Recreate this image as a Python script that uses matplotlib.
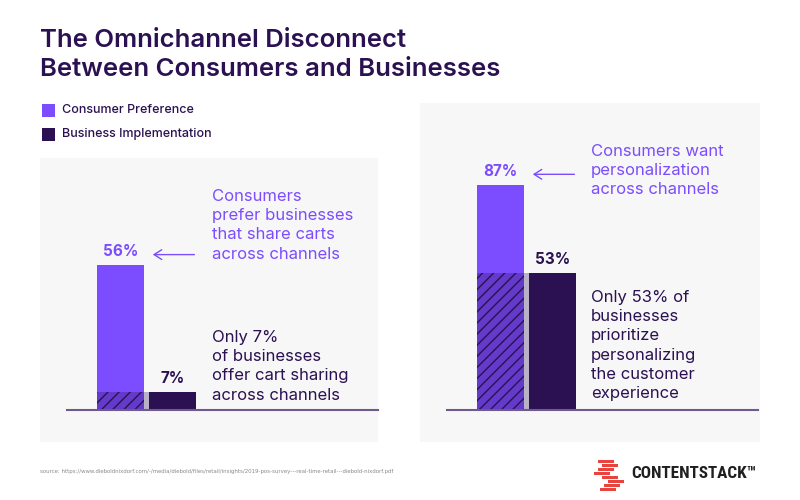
#!/usr/bin/env python3
"""Omnichannel disconnect: consumer preference vs business implementation."""
import matplotlib
matplotlib.use("Agg")
import matplotlib.pyplot as plt
from matplotlib.patches import Rectangle

plt.rcParams["font.family"] = ["Inter", "DejaVu Sans"]

W, H = 800, 500
PURPLE = "#7c4dff"
DARK = "#2b1152"
PANEL = "#f7f7f7"
BASE = "#6e5a8c"

TITLE = "The Omnichannel Disconnect\nBetween Consumers and Businesses"
SERIES = ["Consumer Preference", "Business Implementation"]
cart_values = [56, 7]
personal_values = [87, 53]
cart_notes = ["Consumers\nprefer businesses\nthat share carts\nacross channels",
              "Only 7%\nof businesses\noffer cart sharing\nacross channels"]
personal_notes = ["Consumers want\npersonalization\nacross channels",
                  "Only 53% of\nbusinesses\nprioritize\npersonalizing\nthe customer\nexperience"]
SOURCE = ("source: https://www.dieboldnixdorf.com/-/media/diebold/files/retail/insights/"
          "2019-pos-survey---real-time-retail---diebold-nixdorf.pdf")


def fx(x):
    return x / W


def fy(y):
    return 1 - y / H


fig = plt.figure(figsize=(8, 5), dpi=100, facecolor="white")

# panels (behind the axes)
for x0, y0, x1, y1 in [(40, 158, 378, 442), (420, 103, 760, 442)]:
    fig.patches.append(Rectangle((fx(x0), fy(y1)), fx(x1 - x0), (y1 - y0) / H,
                                 transform=fig.transFigure, facecolor=PANEL,
                                 edgecolor="none", zorder=-5))

fig.text(fx(40), fy(29), TITLE, fontsize=18.5, fontweight="semibold", color=DARK,
         va="top", ha="left", linespacing=1.35)

# legend
for i, (name, col) in enumerate(zip(SERIES, [PURPLE, DARK])):
    yy = 110 + i * 24
    fig.patches.append(Rectangle((fx(42), fy(yy + 7)), fx(13), 13 / H,
                                 transform=fig.transFigure, facecolor=col,
                                 edgecolor="none"))
    fig.text(fx(62), fy(yy), name, fontsize=9, fontweight="medium", color=DARK,
             va="center", ha="left")


def draw_panel(left, values, notes, note_x, top_note_y, low_note_y):
    ax = fig.add_axes([fx(left), fy(410), fx(311), 259 / H])
    ax.patch.set_alpha(0)
    ax.set_xlim(-1.03, 4.95)
    ax.set_ylim(0, 100)
    ax.axis("off")
    xs = [0, 1]
    bw = 0.9
    ax.bar(xs, values, width=bw, color=[PURPLE, DARK], zorder=2)
    # overlap shading on the consumer bar
    low = values[1]
    ax.add_patch(Rectangle((xs[0] - bw / 2, 0), xs[1] - xs[0], low,
                           facecolor=DARK, alpha=0.3, edgecolor="none", zorder=3))
    ax.add_patch(Rectangle((xs[0] - bw / 2, 0), bw, low, fill=False, hatch="///",
                           edgecolor=DARK, linewidth=0, zorder=4))
    ax.plot([-1.03, 4.95], [0, 0], color=BASE, lw=1.5, zorder=5, clip_on=False)
    for x, v, c in zip(xs, values, [PURPLE, DARK]):
        ax.annotate(f"{v}%", (x, v), xytext=(0, 4), textcoords="offset points",
                    ha="center", va="bottom", fontsize=11, fontweight="bold", color=c)
    # arrow from note to consumer label
    ax.annotate("", xy=(xs[0] + 0.62, values[0] + 4), xytext=(xs[0] + 1.42, values[0] + 4),
                arrowprops=dict(arrowstyle="->,head_length=0.55,head_width=0.35",
                                color=PURPLE, lw=1, shrinkA=0, shrinkB=0))
    fig.text(fx(note_x), fy(top_note_y), notes[0], fontsize=12, color=PURPLE,
             va="top", ha="left", linespacing=1.35)
    fig.text(fx(note_x), fy(low_note_y), notes[1], fontsize=12, color=DARK,
             va="top", ha="left", linespacing=1.35)


draw_panel(67, cart_values, cart_notes, 212, 189, 330)
draw_panel(447, personal_values, personal_notes, 591, 144, 290)

fig.text(fx(40), fy(472), SOURCE, fontsize=4.3, color="#8a8a8a", va="center", ha="left",
         family="DejaVu Sans", fontstretch="condensed")

# logo
for k, (dx, dy) in enumerate([(0, 0), (4, 4), (0, 8), (-4, 12), (4, 16), (10, 20), (6, 24), (2, 28)]):
    fig.patches.append(Rectangle((fx(598 + dx), fy(460 + dy + 3)), fx(16), 3 / H,
                                 transform=fig.transFigure, facecolor="#e8433f",
                                 edgecolor="none"))
fig.text(fx(631), fy(473), "CONTENTSTACK\u2122", fontsize=12.3, fontweight="heavy",
         color="#1f1f1f", va="center", ha="left",
         family=["Roboto Condensed", "Liberation Sans Narrow", "DejaVu Sans"])

fig.savefig("out.png", dpi=100, facecolor="white")
